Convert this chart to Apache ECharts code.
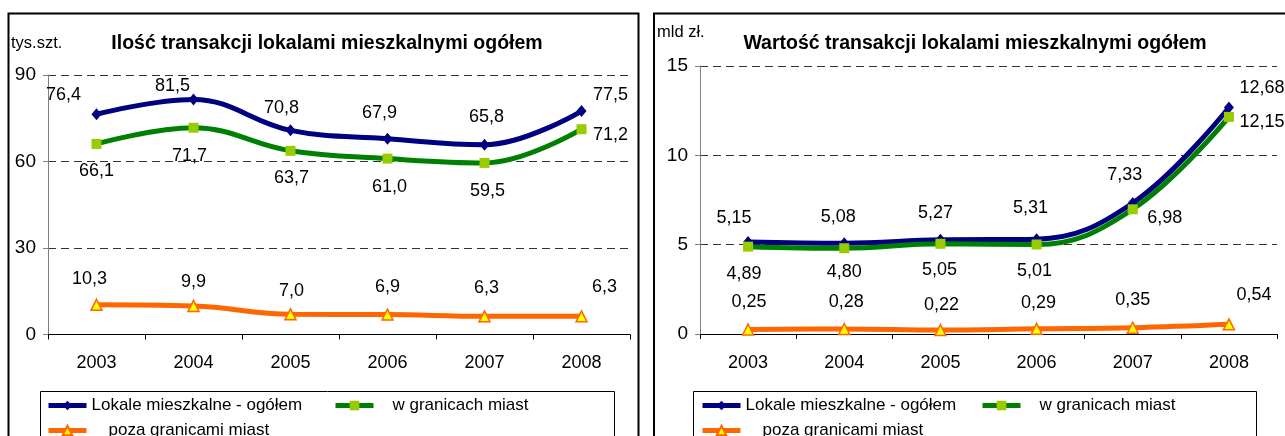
<!DOCTYPE html>
<html>
<head>
<meta charset="utf-8">
<script src="https://cdn.jsdelivr.net/npm/echarts@6/dist/echarts.min.js"></script>
<style>
html,body{margin:0;padding:0;background:#fff;}
#c{width:1285px;height:436px;}
</style>
</head>
<body>
<div id="c"></div>
<script>
// ---- data ----
const years = ['2003', '2004', '2005', '2006', '2007', '2008'];
const seriesNames = ['Lokale mieszkalne - ogółem', 'w granicach miast', 'poza granicami miast'];
// left chart: number of transactions (thousand units)
const qtyTotal = [76.4, 81.5, 70.8, 67.9, 65.8, 77.5];
const qtyCity = [66.1, 71.7, 63.7, 61.0, 59.5, 71.2];
const qtyOutside = [10.3, 9.9, 7.0, 6.9, 6.3, 6.3];
// right chart: value of transactions (bln PLN)
const valTotal = [5.15, 5.08, 5.27, 5.31, 7.33, 12.68];
const valCity = [4.89, 4.80, 5.05, 5.01, 6.98, 12.15];
const valOutside = [0.25, 0.28, 0.22, 0.29, 0.35, 0.54];
const titles = ['Ilość transakcji lokalami mieszkalnymi ogółem', 'Wartość transakcji lokalami mieszkalnymi ogółem'];
const units = ['tys.szt.', 'mld zł.'];

// ---- style ----
const FONT = "'Liberation Sans', Arial, sans-serif";
const COLORS = ['#000080', '#008000', '#ff6600'];
const labelShift = {
  l0: [[-33,-19],[-21,-13],[-9,-22],[-8,-26],[2,-28],[29,-16]],
  l1: [[0,27],[-4,28],[1,27],[2,28],[3,28],[29,6]],
  l2: [[-7,-26],[0,-24],[1,-23],[0,-28],[2,-28],[23,-29]],
  r0: [[-14,-24],[-6,-26],[-5,-27],[-6,-31],[-8,-28],[33,-19]],
  r1: [[-4,27],[0,24],[-1,26],[-2,27],[32,9],[33,5]],
  r2: [[1,-28],[2,-27],[1,-25],[2,-26],[0,-28],[25,-29]]
};

function fmt(dec) {
  return p => p.value.toFixed(dec).replace('.', ',');
}

function makeSeries(idx, values, shifts, axisIdx, dec) {
  const symbolCfg = [
    { symbol: 'diamond', symbolSize: [10, 12], itemStyle: { color: '#000080' } },
    { symbol: 'rect', symbolSize: 10, itemStyle: { color: '#99cc00' } },
    { symbol: 'triangle', symbolSize: 11, itemStyle: { color: '#ffff00', borderColor: '#ff6600', borderWidth: 1.5 } }
  ][idx];
  return Object.assign({
    type: 'line',
    name: seriesNames[idx],
    xAxisIndex: axisIdx,
    yAxisIndex: axisIdx,
    smooth: 0.4,
    showAllSymbol: true,
    lineStyle: { color: COLORS[idx], width: 5 },
    label: {
      show: true, position: 'inside', formatter: fmt(dec),
      color: '#000', fontFamily: FONT, fontSize: 18
    },
    emphasis: { disabled: true },
    animation: false,
    data: values.map((v, i) => ({ value: v, label: { offset: shifts[i] } }))
  }, symbolCfg);
}

function yAxisCfg(gridIdx, max, interval) {
  return {
    type: 'value', gridIndex: gridIdx, min: 0, max: max, interval: interval,
    axisLine: { show: true, lineStyle: { color: '#808080', width: 1 } },
    axisTick: { show: true, length: 5, lineStyle: { color: '#808080' } },
    axisLabel: { color: '#000', fontFamily: FONT, fontSize: 19, margin: 12 },
    splitLine: { show: true, lineStyle: { color: '#333', type: [8, 5], width: 1 } }
  };
}
function xAxisCfg(gridIdx) {
  return {
    type: 'category', gridIndex: gridIdx, data: years, boundaryGap: true,
    axisLine: { show: true, lineStyle: { color: '#000', width: 1 } },
    axisTick: { show: true, length: 5, lineStyle: { color: '#000' } },
    axisLabel: { color: '#000', fontFamily: FONT, fontSize: 18, margin: 20 },
    splitLine: { show: false }
  };
}
function legendCfg(name, left, top, pad) {
  return {
    data: [name], left: left, top: top, padding: 0, itemWidth: 38, itemHeight: 12,
    selectedMode: false,
    lineStyle: { width: 5 },
    textStyle: { color: '#000', fontFamily: FONT, fontSize: 17, padding: [0, 0, 0, pad] }
  };
}

const option = {
  animation: false,
  backgroundColor: '#fff',
  title: [
    { text: titles[0], left: 327, top: 32, textAlign: 'center', padding: 0,
      textStyle: { fontFamily: FONT, fontSize: 19.5, fontWeight: 'bold', color: '#000', lineHeight: 24 } },
    { text: titles[1], left: 975, top: 32, textAlign: 'center', padding: 0,
      textStyle: { fontFamily: FONT, fontSize: 19.5, fontWeight: 'bold', color: '#000', lineHeight: 24 } },
    { text: units[0], left: 11, top: 34, padding: 0,
      textStyle: { fontFamily: FONT, fontSize: 16.5, fontWeight: 'normal', color: '#000', lineHeight: 18 } },
    { text: units[1], left: 657, top: 23, padding: 0,
      textStyle: { fontFamily: FONT, fontSize: 16.5, fontWeight: 'normal', color: '#000', lineHeight: 18 } }
  ],
  grid: [
    { left: 48, top: 75, width: 582, height: 259.5 },
    { left: 700, top: 66, width: 577, height: 268 }
  ],
  xAxis: [xAxisCfg(0), xAxisCfg(1)],
  yAxis: [yAxisCfg(0, 90, 30), yAxisCfg(1, 15, 5)],
  legend: [
    legendCfg(seriesNames[0], 46, 397, 0),
    legendCfg(seriesNames[1], 333, 397, 14),
    legendCfg(seriesNames[2], 46, 422, 17),
    legendCfg(seriesNames[0], 700, 397, 0),
    legendCfg(seriesNames[1], 980, 397, 14),
    legendCfg(seriesNames[2], 700, 422, 17)
  ],
  graphic: [
    { type: 'rect', shape: { x: 8.5, y: 13.5, width: 630, height: 500 },
      style: { fill: 'none', stroke: '#000', lineWidth: 2 }, silent: true },
    { type: 'rect', shape: { x: 654, y: 13.5, width: 700, height: 500 },
      style: { fill: 'none', stroke: '#000', lineWidth: 2 }, silent: true },
    { type: 'rect', shape: { x: 40.5, y: 391.5, width: 574, height: 100 },
      style: { fill: 'none', stroke: '#000', lineWidth: 1 }, silent: true },
    { type: 'rect', shape: { x: 693.5, y: 391.5, width: 563, height: 100 },
      style: { fill: 'none', stroke: '#000', lineWidth: 1 }, silent: true }
  ],
  series: [
    makeSeries(0, qtyTotal, labelShift.l0, 0, 1),
    makeSeries(1, qtyCity, labelShift.l1, 0, 1),
    makeSeries(2, qtyOutside, labelShift.l2, 0, 1),
    makeSeries(0, valTotal, labelShift.r0, 1, 2),
    makeSeries(1, valCity, labelShift.r1, 1, 2),
    makeSeries(2, valOutside, labelShift.r2, 1, 2)
  ]
};

const chart = echarts.init(document.getElementById('c'), null, { renderer: 'canvas' });
chart.setOption(option);
</script>
</body>
</html>
